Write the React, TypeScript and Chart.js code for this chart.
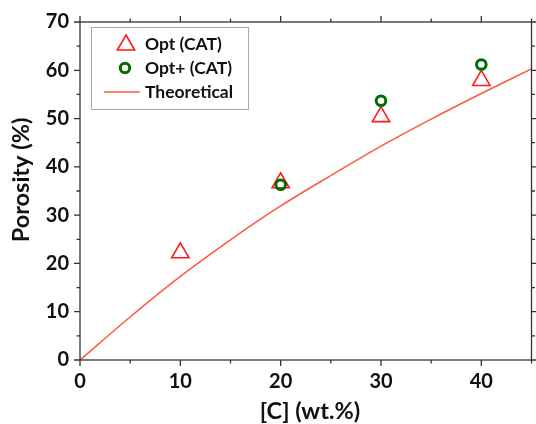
import React, { useEffect, useRef } from "react";
import { Chart, registerables } from "chart.js";

Chart.register(...registerables);

const catX = [10, 20, 30, 40];
const catY = [22.2, 36.7, 50.4, 57.9];
const plusX = [20, 30, 40];
const plusY = [36.3, 53.7, 61.2];
const theoX = [0, 5, 10, 15, 20, 25, 30, 35, 40, 45];
const theoY = [0, 8.9, 17.3, 24.9, 31.9, 38.2, 44.3, 49.9, 55.2, 60.3];
const xTicks = [0, 10, 20, 30, 40];
const xMinor = [5, 15, 25, 35, 45];
const yTicks = [0, 10, 20, 30, 40, 50, 60, 70];
const yMinor = [5, 15, 25, 35, 45, 55, 65];
const legendLabels = ["Opt (CAT)", "Opt+ (CAT)", "Theoretical"];
const xTitle = "[C] (wt.%)";
const yTitle = "Porosity (%)";

const RED = "#ff1a1a";
const GREEN = "#006d00";
const LINE = "#ff5a3c";
const AXIS = "#333333";
const FONT = "Lato";

function triangle(ctx: CanvasRenderingContext2D, x: number, y: number, r: number) {
  ctx.beginPath();
  let rad = 0;
  const step = (2 * Math.PI) / 3;
  ctx.moveTo(x + Math.sin(rad) * r, y - Math.cos(rad) * r);
  rad += step;
  ctx.lineTo(x + Math.sin(rad) * r, y - Math.cos(rad) * r);
  rad += step;
  ctx.lineTo(x + Math.sin(rad) * r, y - Math.cos(rad) * r);
  ctx.closePath();
}

const framePlugin = {
  id: "frameAndLegend",
  afterDraw(chart: any) {
    const ctx: CanvasRenderingContext2D = chart.ctx;
    const { left, right, top, bottom } = chart.chartArea;
    const xs = chart.scales.x;
    const ys = chart.scales.y;
    ctx.save();
    ctx.strokeStyle = AXIS;
    ctx.lineWidth = 1.3;
    ctx.strokeRect(left, top, right - left, bottom - top);
    ctx.beginPath();
    const tickX = (vals: number[], len: number) => {
      vals.forEach((v) => {
        const px = xs.getPixelForValue(v);
        ctx.moveTo(px, bottom);
        ctx.lineTo(px, bottom + len);
        ctx.moveTo(px, top);
        ctx.lineTo(px, top - len);
      });
    };
    const tickY = (vals: number[], len: number) => {
      vals.forEach((v) => {
        const py = ys.getPixelForValue(v);
        ctx.moveTo(left, py);
        ctx.lineTo(left - len, py);
        ctx.moveTo(right, py);
        ctx.lineTo(right + len, py);
      });
    };
    tickX(xTicks, 6);
    tickX(xMinor, 3.5);
    tickY(yTicks, 6);
    tickY(yMinor, 3.5);
    ctx.stroke();

    // titles
    ctx.fillStyle = "#111";
    ctx.font = `bold 23.5px ${FONT}`;
    ctx.textAlign = "center";
    ctx.textBaseline = "middle";
    ctx.fillText(xTitle, 310, 411);
    ctx.save();
    ctx.translate(21, 180);
    ctx.rotate(-Math.PI / 2);
    ctx.fillText(yTitle, 0, 0);
    ctx.restore();

    // legend
    ctx.strokeStyle = "#a8a8a8";
    ctx.lineWidth = 1;
    ctx.strokeRect(91.5, 27.5, 157, 82);
    const rows = [44, 68, 92];
    ctx.font = `bold 17.5px ${FONT}`;
    ctx.textAlign = "left";
    ctx.fillStyle = "#111";
    legendLabels.forEach((t, i) => ctx.fillText(t, 145, rows[i]));
    ctx.strokeStyle = RED;
    ctx.lineWidth = 1.6;
    triangle(ctx, 126, rows[0] + 1, 10);
    ctx.stroke();
    ctx.strokeStyle = GREEN;
    ctx.lineWidth = 3;
    ctx.beginPath();
    ctx.arc(125, rows[1], 4.7, 0, Math.PI * 2);
    ctx.stroke();
    ctx.strokeStyle = LINE;
    ctx.lineWidth = 1.5;
    ctx.beginPath();
    ctx.moveTo(104, rows[2]);
    ctx.lineTo(140, rows[2]);
    ctx.stroke();
    ctx.restore();
  },
};

export default function App() {
  const ref = useRef<HTMLCanvasElement>(null);
  useEffect(() => {
    if (!ref.current) return;
    const chart = new Chart(ref.current, {
      type: "scatter",
      data: {
        datasets: [
          {
            label: legendLabels[1],
            data: plusX.map((x, i) => ({ x, y: plusY[i] })),
            pointStyle: "circle",
            pointRadius: 4.8,
            pointBorderWidth: 3,
            borderColor: GREEN,
            backgroundColor: "rgba(0,0,0,0)",
            order: 0,
          },
          {
            label: legendLabels[0],
            data: catX.map((x, i) => ({ x, y: catY[i] })),
            pointStyle: "triangle",
            pointRadius: 10,
            pointBorderWidth: 1.6,
            borderColor: RED,
            backgroundColor: "rgba(0,0,0,0)",
            order: 1,
          },
          {
            label: legendLabels[2],
            data: theoX.map((x, i) => ({ x, y: theoY[i] })),
            showLine: true,
            pointRadius: 0,
            borderColor: LINE,
            borderWidth: 1.5,
            cubicInterpolationMode: "monotone",
            order: 2,
          } as any,
        ],
      },
      options: {
        animation: false,
        responsive: false,
        layout: { autoPadding: false, padding: { top: 22, right: 4.5, left: 0, bottom: 0 } },
        plugins: { legend: { display: false }, tooltip: { enabled: false } },
        scales: {
          x: {
            type: "linear",
            min: 0,
            max: 45,
            afterBuildTicks: (s: any) => {
              s.ticks = xTicks.map((v) => ({ value: v }));
            },
            afterFit: (s: any) => {
              s.height = 64;
              s.paddingLeft = 0;
              s.paddingRight = 0;
            },
            grid: { display: false, drawTicks: false },
            border: { display: false },
            ticks: {
              padding: 10,
              color: "#111",
              font: { family: FONT, size: 20, weight: "bold" },
            },
          },
          y: {
            type: "linear",
            min: 0,
            max: 70,
            afterBuildTicks: (s: any) => {
              s.ticks = yTicks.map((v) => ({ value: v }));
            },
            afterFit: (s: any) => {
              s.width = 80;
              s.paddingTop = 0;
              s.paddingBottom = 0;
            },
            grid: { display: false, drawTicks: false },
            border: { display: false },
            ticks: {
              padding: 11,
              color: "#111",
              font: { family: FONT, size: 20, weight: "bold" },
            },
          },
        },
      },
      plugins: [framePlugin],
    });
    return () => chart.destroy();
  }, []);
  return (
    <div style={{ position: "absolute", left: 0, top: 0, width: 536, height: 424, background: "#fff" }}>
      <canvas ref={ref} width={536} height={424} />
    </div>
  );
}
